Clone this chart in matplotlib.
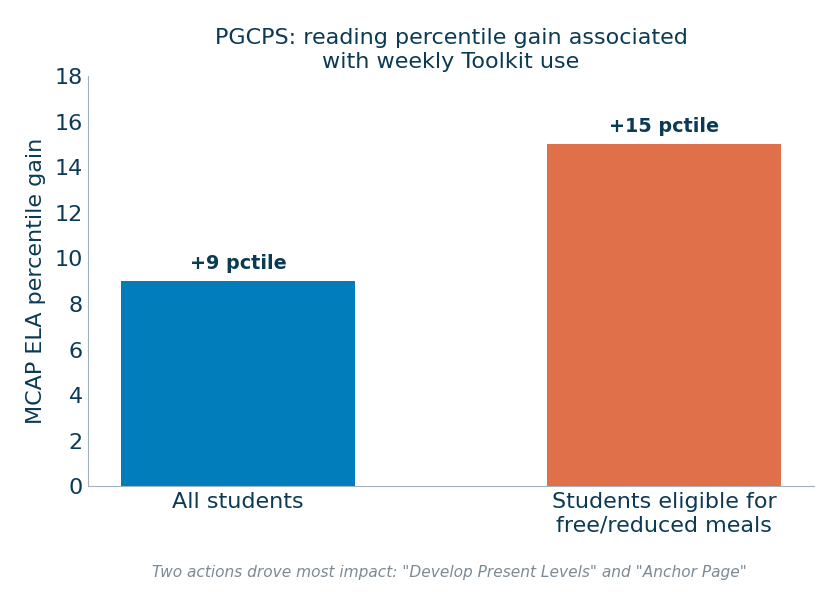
import numpy as np
import matplotlib.pyplot as plt

categories = ["All students", "Students eligible for\nfree/reduced meals"]
gains = [9, 15]
labels = ["+9 pctile", "+15 pctile"]
colors = ["#007dba", "#e07049"]

NAVY = "#0b3a55"
GREY = "#7b8a95"

fig, ax = plt.subplots(figsize=(8.4, 6.08), dpi=100)
fig.subplots_adjust(left=0.105, right=0.969, top=0.875, bottom=0.2)

x = np.arange(len(categories))
bars = ax.bar(x, gains, width=0.55, color=colors)
for b, lab in zip(bars, labels):
    ax.text(b.get_x() + b.get_width() / 2, b.get_height() + 0.35, lab,
            ha="center", va="bottom", fontsize=13.8, fontweight="bold", color=NAVY)

ax.set_ylim(0, 18)
ax.set_yticks(range(0, 19, 2))
ax.set_xticks(x)
ax.set_xticklabels(categories)
ax.tick_params(axis="both", length=0, labelsize=16, labelcolor=NAVY, pad=4)
ax.set_ylabel("MCAP ELA percentile gain", fontsize=16, color=NAVY, labelpad=6)
ax.set_title("PGCPS: reading percentile gain associated\nwith weekly Toolkit use",
             fontsize=16, color=NAVY, pad=6)

for s in ["top", "right"]:
    ax.spines[s].set_visible(False)
for s in ["left", "bottom"]:
    ax.spines[s].set_color("#a3b1ba")

fig.text(0.535, 0.051, 'Two actions drove most impact: "Develop Present Levels" and "Anchor Page"',
         ha="center", fontsize=11.1, style="italic", color=GREY)

fig.savefig("out.png", dpi=100)
